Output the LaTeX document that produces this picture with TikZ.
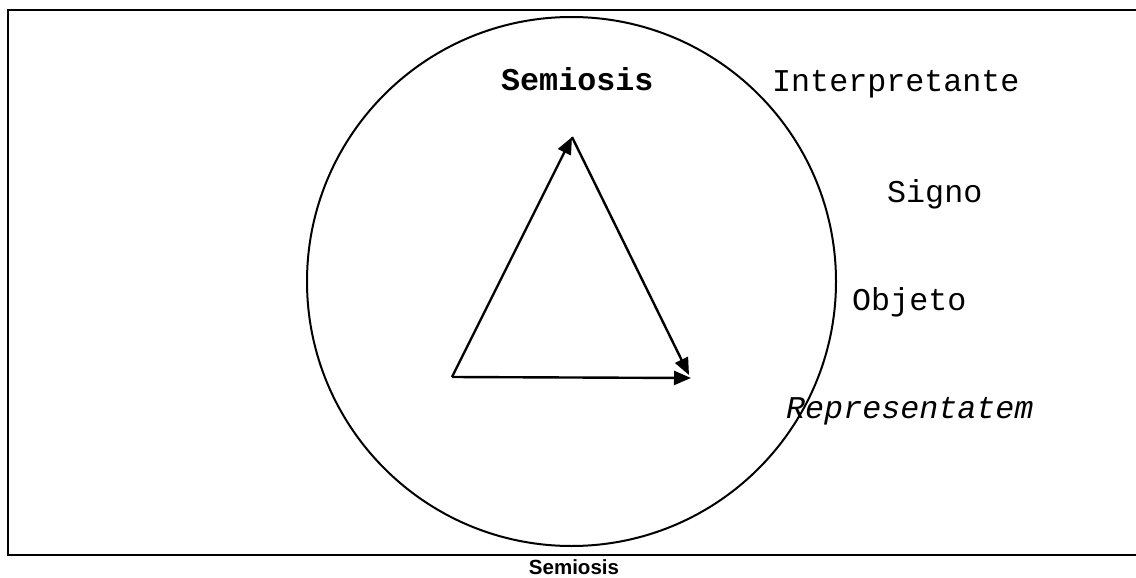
\documentclass[tikz,border=0pt]{standalone}
\usepackage{fontspec}
\setmainfont{Liberation Serif}
\newfontfamily\courierfont{Liberation Mono}
\newfontfamily\arialfont{Liberation Sans}
\usetikzlibrary{arrows.meta}
\begin{document}
\begin{tikzpicture}[x=1pt,y=-1pt,
  mono/.style={inner sep=0pt, anchor=base west, font=\courierfont\fontsize{31.7}{36}\selectfont},
  edge/.style={line width=2.4pt, -{Triangle[length=17pt,width=14pt]}}]
  \useasboundingbox (0,0) rectangle (1136,578);
  \fill[white] (0,0) rectangle (1136,578);
  % open frame
  \draw[line width=2.4pt] (1137,10) -- (8,10) -- (8,555) -- (1137,555);
  % circle of semiosis
  \draw[line width=2pt] (571.5,281.5) circle[radius=264.5];
  % triangle corners
  \coordinate (bl) at (452,377);
  \coordinate (top) at (572,137);
  \coordinate (rs) at (689,375);
  \coordinate (br) at (691,378);
  \draw[edge] (bl) -- (top);
  \draw[edge] (top) -- (rs);
  \draw[edge] (bl) -- (br);
  % labels
  \node[mono, font=\courierfont\bfseries\fontsize{31.7}{36}\selectfont] (sem) at (501,91) {Semiosis};
  \node[mono] (interp) at (772,92) {Interpretante};
  \node[mono] (signo) at (887,202) {Signo};
  \node[mono] (obj) at (852,310) {Objeto};
  \node[mono, font=\courierfont\itshape\fontsize{31.7}{36}\selectfont] (repr) at (786,418) {Representatem};
  \node[inner sep=0pt, anchor=base, font=\arialfont\bfseries\fontsize{20.5}{23}\selectfont] (cap) at (574,574) {Semiosis};
\end{tikzpicture}
\end{document}
